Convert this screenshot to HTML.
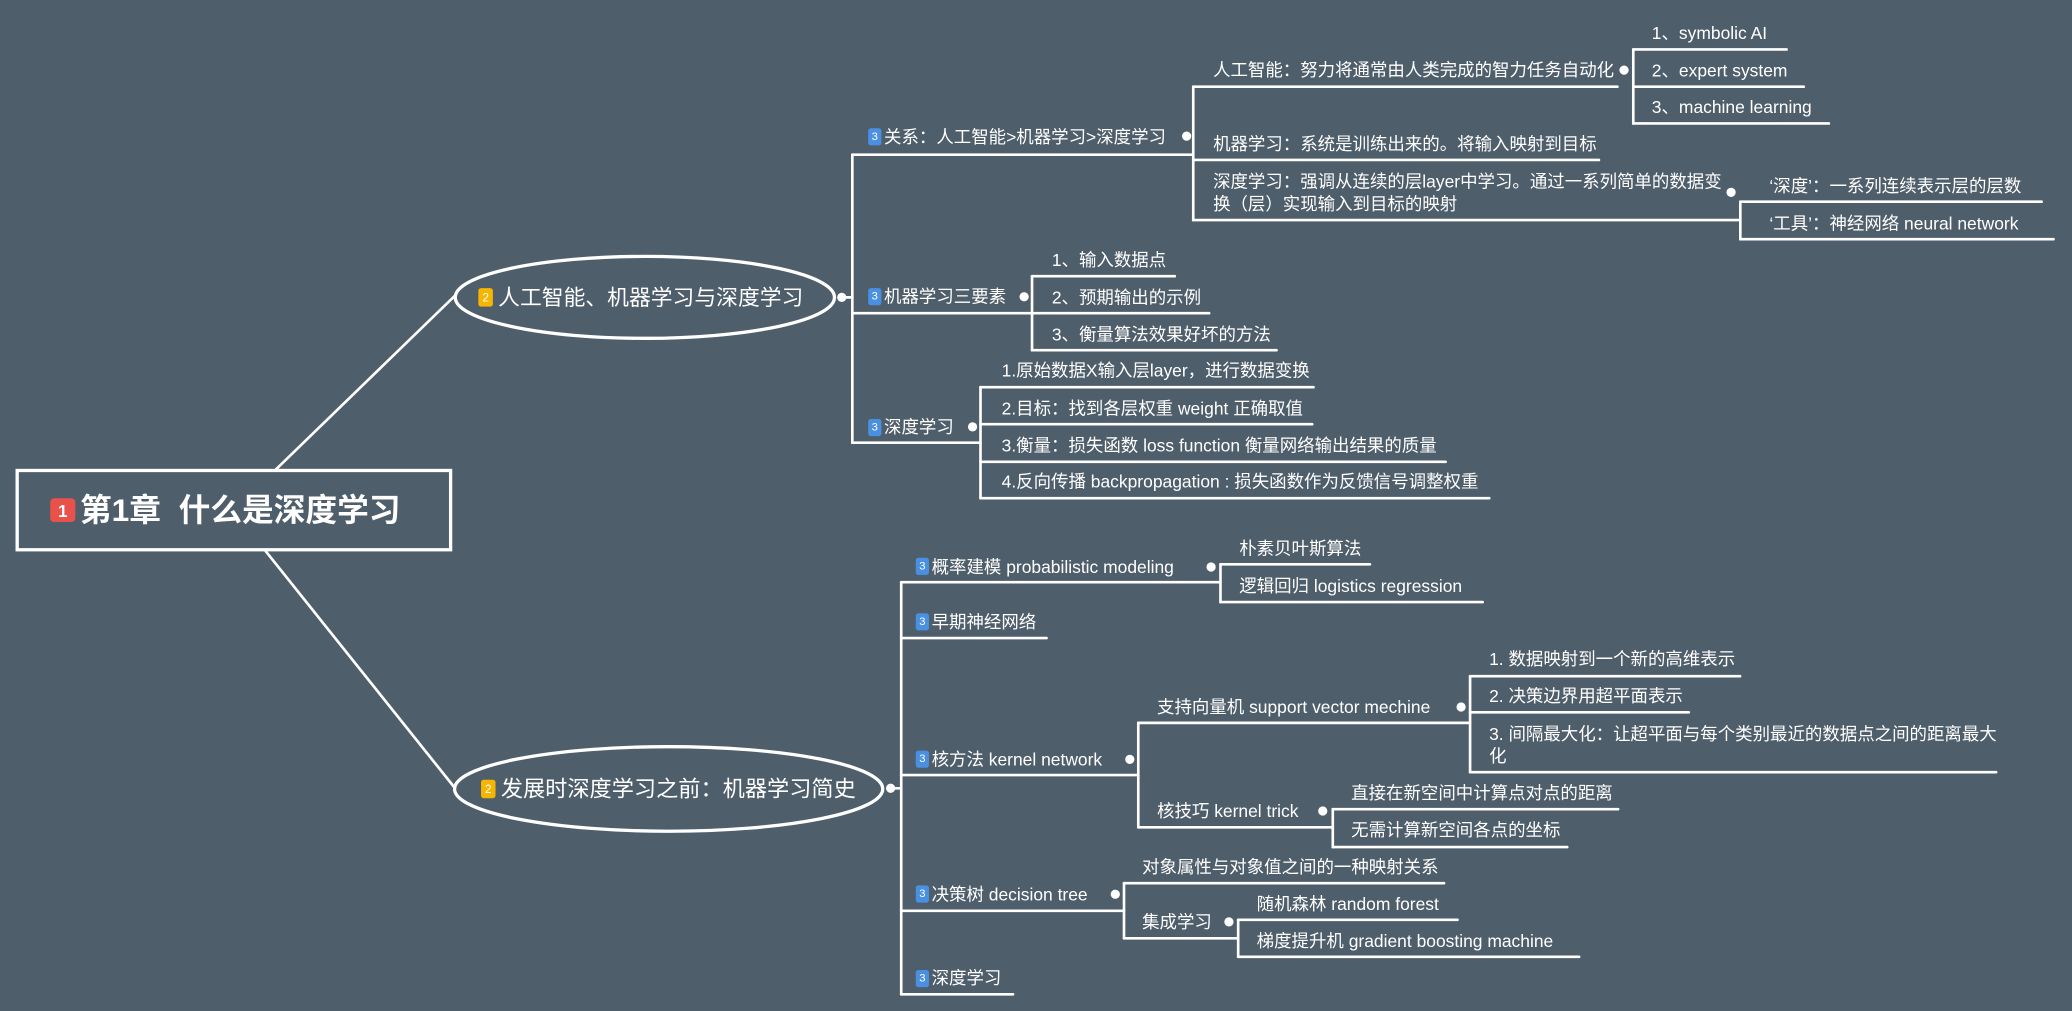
<!DOCTYPE html>
<html><head><meta charset="utf-8"><style>
html,body{margin:0;padding:0;background:#4f5e6b;}
svg{display:block;}
text{fill:#fff;font-family:"Liberation Sans","Noto Sans CJK SC",sans-serif;dominant-baseline:central;}
.l{font-size:13.2px;}
</style></head><body>
<svg width="2072" height="1011" viewBox="0 0 1568 765" xmlns="http://www.w3.org/2000/svg">
<rect width="1568" height="765" fill="#4f5e6b"/>
<g stroke="#fff" stroke-width="2" fill="none" stroke-linecap="round">
<line x1="209" y1="355" x2="344" y2="224"/>
<line x1="201" y1="417" x2="344" y2="596"/>
<rect x="13" y="356" width="328" height="60" stroke-width="2.5"/>
<ellipse cx="488" cy="225" rx="143.5" ry="31" stroke-width="2.5"/>
<ellipse cx="506" cy="597" rx="162" ry="32" stroke-width="2.5"/>
<line x1="637" y1="225" x2="645" y2="225"/>
<path d="M645 117 V335"/>
<path d="M645 117 H903"/>
<path d="M645 237 H781"/>
<path d="M645 335 H742"/>
<path d="M903 65.6 V166.5"/>
<path d="M903 65.6 H1224"/>
<path d="M903 121 H1210"/>
<path d="M903 166.5 H1317"/>
<path d="M1236 37.4 V93.4"/>
<path d="M1236 37.4 H1352"/>
<path d="M1236 65.6 H1365"/>
<path d="M1236 93.4 H1384"/>
<path d="M1317 152.6 V181"/>
<path d="M1317 152.6 H1545"/>
<path d="M1317 181 H1554"/>
<path d="M781 209 V265"/>
<path d="M781 209 H889"/>
<path d="M781 237 H915"/>
<path d="M781 265 H966"/>
<path d="M742 293 V377"/>
<path d="M742 293 H994"/>
<path d="M742 321 H993"/>
<path d="M742 349.4 H1094"/>
<path d="M742 377 H1127"/>
<line x1="674" y1="596.5" x2="682" y2="596.5"/>
<path d="M682 440.5 V752.4"/>
<path d="M682 440.5 H923.6"/>
<path d="M682 482.8 H792"/>
<path d="M682 586.5 H861.4"/>
<path d="M682 689.2 H850.6"/>
<path d="M682 752.4 H766.6"/>
<path d="M923.6 427 V455.6"/>
<path d="M923.6 427 H1036.7"/>
<path d="M923.6 455.6 H1122"/>
<path d="M861.4 547 V626"/>
<path d="M861.4 547 H1112.5"/>
<path d="M861.4 626 H1008.6"/>
<path d="M1112.5 511.7 V584.3"/>
<path d="M1112.5 511.7 H1316.8"/>
<path d="M1112.5 539 H1278"/>
<path d="M1112.5 584.3 H1510.6"/>
<path d="M1008.6 612.3 V641"/>
<path d="M1008.6 612.3 H1224.5"/>
<path d="M1008.6 641 H1186"/>
<path d="M850.6 668.3 V710"/>
<path d="M850.6 668.3 H1092.8"/>
<path d="M850.6 710 H937"/>
<path d="M937 696 V724"/>
<path d="M937 696 H1103"/>
<path d="M937 724 H1195"/>
</g>
<g fill="#fff">
<circle cx="637" cy="225" r="3.5"/><circle cx="898" cy="103" r="3.5"/><circle cx="1229" cy="53" r="3.5"/>
<circle cx="1310" cy="145.5" r="3.5"/><circle cx="775" cy="224.5" r="3.5"/><circle cx="736" cy="323" r="3.5"/>
<circle cx="674" cy="596.5" r="3.5"/><circle cx="916.5" cy="429" r="3.5"/><circle cx="855" cy="574.6" r="3.5"/>
<circle cx="1105.7" cy="535" r="3.5"/><circle cx="1001" cy="613.7" r="3.5"/><circle cx="844" cy="676.7" r="3.5"/>
<circle cx="930" cy="697.6" r="3.5"/>
</g>
<rect x="38" y="377" width="19" height="18" rx="3" fill="#e8524a"/>
<text x="47.5" y="386.5" text-anchor="middle" style="font-size:13px;font-weight:bold">1</text>
<text x="60.5" y="386" style="font-size:24px;font-weight:bold">第1章&#160;&#160;什么是深度学习</text>
<rect x="362" y="218" width="11" height="14" rx="2" fill="#f6b500"/>
<text x="367.5" y="225" text-anchor="middle" style="font-size:9px">2</text>
<text x="377" y="225" style="font-size:16.5px">人工智能、机器学习与深度学习</text>
<rect x="364" y="590" width="11" height="14" rx="2" fill="#f6b500"/>
<text x="369.5" y="597" text-anchor="middle" style="font-size:9px">2</text>
<text x="379" y="597" style="font-size:16.8px">发展时深度学习之前：机器学习简史</text>
<g fill="#4a90e2">
<rect x="657" y="97" width="10" height="13" rx="2"/>
<rect x="657" y="218" width="10" height="13" rx="2"/>
<rect x="657" y="317" width="10" height="13" rx="2"/>
<rect x="693" y="422" width="10" height="13" rx="2"/>
<rect x="693" y="464" width="10" height="13" rx="2"/>
<rect x="693" y="568" width="10" height="13" rx="2"/>
<rect x="693" y="670" width="10" height="13" rx="2"/>
<rect x="693" y="734" width="10" height="13" rx="2"/>
</g>
<g style="font-size:8.5px" text-anchor="middle">
<text x="662" y="103.5">3</text><text x="662" y="224.5">3</text><text x="662" y="323.5">3</text>
<text x="698" y="428.5">3</text><text x="698" y="470.5">3</text><text x="698" y="574.5">3</text>
<text x="698" y="676.5">3</text><text x="698" y="740.5">3</text>
</g>
<g class="l">
<text x="669" y="103.5">关系：人工智能&gt;机器学习&gt;深度学习</text>
<text x="669" y="224.5">机器学习三要素</text>
<text x="669" y="323">深度学习</text>
<text x="918" y="53">人工智能：努力将通常由人类完成的智力任务自动化</text>
<text x="918" y="109">机器学习：系统是训练出来的。将输入映射到目标</text>
<text x="918" y="137.5">深度学习：强调从连续的层layer中学习。通过一系列简单的数据变</text>
<text x="918" y="154.4">换（层）实现输入到目标的映射</text>
<text x="1250" y="25">1、symbolic AI</text>
<text x="1250" y="53.5">2、expert system</text>
<text x="1250" y="81">3、machine learning</text>
<text x="1339" y="140.7">‘深度’：一系列连续表示层的层数</text>
<text x="1339" y="169">‘工具’：神经网络 neural network</text>
<text x="796" y="196.8">1、输入数据点</text>
<text x="796" y="225">2、预期输出的示例</text>
<text x="796" y="253">3、衡量算法效果好坏的方法</text>
<text x="758" y="280.5">1.原始数据X输入层layer，进行数据变换</text>
<text x="758" y="309">2.目标：找到各层权重 weight 正确取值</text>
<text x="758" y="337">3.衡量：损失函数 loss function 衡量网络输出结果的质量</text>
<text x="758" y="364.5">4.反向传播 backpropagation : 损失函数作为反馈信号调整权重</text>
<text x="705" y="429">概率建模 probabilistic modeling</text>
<text x="705" y="470.7">早期神经网络</text>
<text x="705" y="574.6">核方法 kernel network</text>
<text x="705" y="676.7">决策树 decision tree</text>
<text x="705" y="740">深度学习</text>
<text x="937.8" y="415">朴素贝叶斯算法</text>
<text x="937.8" y="443.5">逻辑回归 logistics regression</text>
<text x="875.6" y="535">支持向量机 support vector mechine</text>
<text x="875.6" y="613.7">核技巧 kernel trick</text>
<text x="1126.9" y="498.7">1. 数据映射到一个新的高维表示</text>
<text x="1126.9" y="526.8">2. 决策边界用超平面表示</text>
<text x="1126.9" y="555.5">3. 间隔最大化：让超平面与每个类别最近的数据点之间的距离最大</text>
<text x="1126.9" y="572">化</text>
<text x="1022.5" y="600">直接在新空间中计算点对点的距离</text>
<text x="1022.5" y="628">无需计算新空间各点的坐标</text>
<text x="864.3" y="656">对象属性与对象值之间的一种映射关系</text>
<text x="864.3" y="697.6">集成学习</text>
<text x="951" y="684">随机森林 random forest</text>
<text x="951" y="712">梯度提升机 gradient boosting machine</text>
</g>
</svg>
</body></html>
